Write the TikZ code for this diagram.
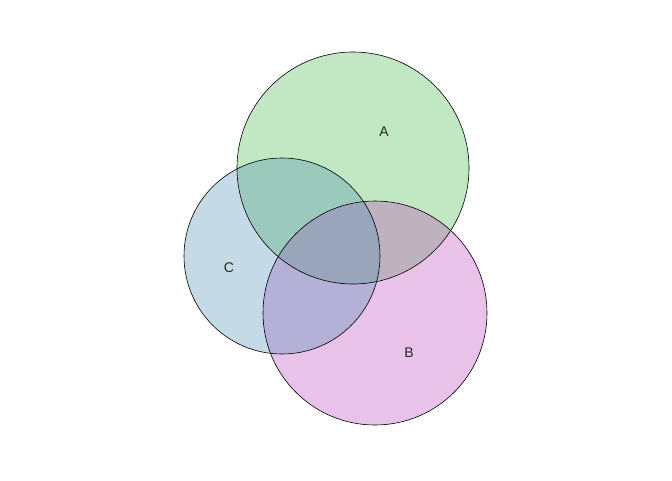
\documentclass[tikz,border=0pt]{standalone}
\usepackage{fontspec}
\setmainfont{Liberation Sans}
\begin{document}
\begin{tikzpicture}[x=1pt,y=-1pt,
  setcircle/.style={draw=black, line width=0.6pt, circle, inner sep=0pt},
  setlabel/.style={font=\fontsize{14}{16}\selectfont, text=black!85}]
\definecolor{cA}{RGB}{55,182,58}
\definecolor{cB}{RGB}{182,55,181}
\definecolor{cC}{RGB}{65,135,178}
\useasboundingbox (0,0) rectangle (672,480);
\fill[white] (0,0) rectangle (672,480);
\fill[cA, fill opacity=0.3] (353,168) circle (116);
\fill[cB, fill opacity=0.3] (375,313) circle (112);
\fill[cC, fill opacity=0.3] (282,256) circle (98);
\node[setcircle, minimum size=232pt] (A) at (353,168) {};
\node[setcircle, minimum size=224pt] (B) at (375,313) {};
\node[setcircle, minimum size=196pt] (C) at (282,256) {};
\node[setlabel] (la) at (384,132) {A};
\node[setlabel] (lb) at (409,353) {B};
\node[setlabel] (lc) at (229,268) {C};
\end{tikzpicture}
\end{document}
